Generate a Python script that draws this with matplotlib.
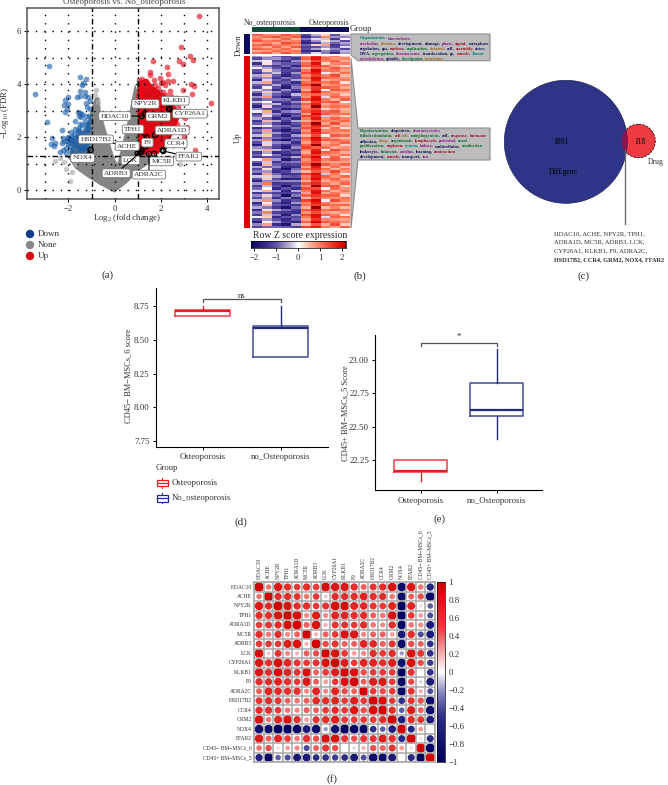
import matplotlib
matplotlib.use('Agg')
import matplotlib.pyplot as plt
import numpy as np
from matplotlib.colors import LinearSegmentedColormap
from matplotlib.patches import Circle, Polygon, Rectangle

plt.rcParams['font.family'] = ['Liberation Serif', 'DejaVu Serif']
plt.rcParams['mathtext.fontset'] = 'custom'
plt.rcParams['mathtext.rm'] = 'Liberation Serif'
plt.rcParams['mathtext.default'] = 'regular'

W, H = 668, 785
TXT = '#2e2e2e'

# volcano data
blue_x = [-2.83,-3.44,-2.93,-1.52,-1.24,-1.35,-1.4,-1.5,-1.3,-2.0,-2.15,-2.02,-1.65,-1.5,-1.3,-1.15,-1.05,-1.25,-1.2,-2.2,-2.05,-2.15,-1.6,-1.5,-1.4,-1.55,-1.45,-1.05,-1.1,-1.25,-1.08,-1.3,-1.7,-1.5,-1.4,-1.55,-1.25,-1.1,-1.7,-2.3,-1.9,-1.75,-1.6,-1.4,-1.2,-2.7,-2.75,-2.6,-2.65,-2.25,-2.2,-2.3,-2.0,-1.95,-1.85,-2.05,-1.9,-1.75,-1.6,-1.45,-1.2,-1.1,-1.95,-2.1,-2.25,-2.35,-2.1,-1.95,-1.8,-1.65,-1.5,-1.35,-1.2,-1.1,-1.75,-1.6,-1.45,-1.3,-1.85,-1.65,-1.55,-1.45,-1.35,-1.3,-1.2,-1.15,-1.9,-2.0,-1.8,-1.7,-1.55,-1.4,-1.3,-2.0,-1.85,-1.7,-1.6,-1.5,-1.25]
blue_y = [4.67,3.61,2.57,4.25,4.18,4.05,3.98,3.75,3.7,3.5,3.4,3.25,3.52,3.55,3.55,3.5,3.35,3.3,3.15,3.2,3.05,2.95,2.95,2.9,2.85,2.8,2.75,3.05,2.8,2.8,2.6,2.6,2.6,2.5,2.45,2.35,2.45,2.3,2.3,2.28,2.2,2.1,2.15,2.15,2.15,1.95,1.75,1.78,1.65,1.95,1.85,1.78,2.0,1.95,2.0,1.85,1.8,1.85,1.9,1.95,1.95,1.85,1.65,1.6,1.5,1.45,1.4,1.5,1.55,1.65,1.75,1.7,1.65,1.6,1.4,1.45,1.5,1.5,1.35,2.0,2.05,2.05,2.0,2.25,2.35,2.5,1.9,1.72,1.72,1.75,1.6,1.6,1.6,1.95,1.9,1.95,2.25,2.2,1.8]
red_x = [3.67,2.86,3.27,1.67,2.26,2.79,2.98,3.41,2.3,1.53,1.53,2.54,2.33,2.08,1.97,3.3,3.44,2.98,3.34,2.65,2.9,4.17,3.48,3.12,3.05,2.95,1.2,1.35,1.05,1.1,1.75,1.9,2.1,2.25,2.45,2.6,2.75,2.85,2.95,2.6,2.7,2.5,2.35,2.2,2.05,1.85,1.65,1.45,1.3,1.15,1.0,1.7,2.0,2.4,2.2,2.85,3.0,2.55]
red_y = [6.55,5.41,5.06,4.87,4.64,4.88,4.75,4.9,4.38,4.46,4.33,4.11,4.11,4.06,4.24,4.01,3.92,3.77,3.62,3.47,3.4,3.27,1.51,2.39,2.7,2.95,4.2,4.1,4.15,3.95,3.95,3.85,3.7,3.6,3.55,3.4,3.15,3.0,2.8,2.75,2.5,2.25,2.1,1.95,1.75,1.6,1.55,3.85,3.95,3.75,3.6,4.15,4.05,3.75,3.95,2.2,2.05,1.7]
pale_x = [-0.8,-0.85,-0.7,-2.58,-2.37,-2.1,-1.94,-1.72,-1.86,2.83,-1.55,-2.2]
pale_y = [3.77,3.58,3.33,1.1,1.2,0.78,0.35,1.0,0.69,1.0,1.2,1.05]
none_area_x = [0,-0.64,-1.21,-1.72,-2.0,-1.86,-1.5,-1.18,-1.04,-0.85,-0.66,-0.6,-0.42,-0.2,0,0.12,0.3,0.52,0.74,0.88,0.98,0.98,1.9,1.1,0.52]
none_area_y = [-0.1,0.19,0.5,0.82,1.2,1.63,2.0,2.5,3.0,3.5,3.5,3.0,2.4,1.75,1.2,1.0,1.63,2.4,3.4,4.0,3.77,1.5,1.25,0.75,0.25]
up_area_x = [0.98,0.98,1.4,1.7,2.2,2.6,2.8,2.6,2.3,1.9]
up_area_y = [1.32,4.1,4.2,3.9,3.6,3.3,2.7,2.2,1.8,1.36]
genes = ['NPY2R','KLKB1','HDAC10','GRM2','CYP26A1','TPH1','ADRA1D','HSD17B2','F9','CCR4','ACHE','NOX4','FFAR2','LCK','MC5R','ADRB3','ADRA2C']
gene_x = [1.32,2.36,1.17,1.32,2.4,1.39,1.76,1.17,1.34,2.1,1.17,-1.04,2.11,1.0,1.71,1.1,1.49]
gene_y = [2.89,3.08,2.79,2.86,3.04,1.99,2.08,1.53,1.64,1.51,1.45,1.51,1.47,1.38,1.36,1.41,1.36]
label_x = [1.34,2.63,0.01,1.89,3.27,0.8,2.5,-0.81,1.42,2.66,0.55,-1.39,3.22,0.69,2.04,0.07,1.49]
label_y = [3.25,3.37,2.79,2.77,2.88,2.29,2.25,1.91,1.79,1.76,1.66,1.21,1.26,1.12,1.08,0.63,0.58]

# heatmap rows in tenths of a z score, five no_osteoporosis then five osteoporosis
heat_down = [
    [12,9,8,13,10,-12,-4,3,-10,-3],
    [8,11,13,9,12,-15,-9,9,-6,-7],
    [10,6,7,12,6,-8,-2,-3,-13,1],
    [13,10,11,8,9,-14,-6,2,-5,-11],
    [7,9,6,14,11,-16,-13,-4,-9,-5],
    [11,13,9,10,8,-9,3,7,-14,-8],
    [9,6,12,7,13,-13,-11,-6,-12,-2],
    [12,10,8,11,6,-11,-5,-1,-7,-12],
    [6,8,11,9,10,-15,-16,-7,-10,-4],
    [10,12,7,13,9,-10,-2,-8,-15,-6],
]
heat_up = [
    [-6,-3,-9,-13,-8,9,17,6,10,4],
    [-12,-7,-6,-10,-14,12,19,11,8,9],
    [-3,-1,-12,-15,-7,6,14,9,12,6],
    [-15,2,-8,-11,-10,11,20,3,9,10],
    [-7,-10,-13,-9,-16,13,16,12,7,3],
    [-1,-5,-11,-16,-9,5,13,8,13,9],
    [-11,3,-7,-12,-13,10,21,10,11,7],
    [-14,-8,-3,-14,-6,14,18,-1,6,11],
    [-5,5,-10,-17,-11,8,15,9,14,5],
    [-9,-6,-14,-8,-12,12,20,12,10,8],
    [-16,-2,-9,-13,-5,7,19,5,8,10],
    [-4,7,-12,-10,-15,11,14,10,12,2],
    [-10,-9,-5,-15,-10,15,22,7,9,9],
    [-13,1,-11,-18,-8,9,16,13,11,6],
    [-2,-7,-15,-7,-13,6,17,1,13,11],
    [-8,4,-6,-12,-16,13,21,11,7,7],
    [-15,-4,-10,-14,-4,10,12,8,10,4],
    [-6,8,-13,-19,-11,8,19,-2,12,9],
    [-12,-8,-8,-9,-14,14,20,10,6,12],
    [-3,0,-14,-13,-7,5,15,12,14,1],
    [-11,-5,-4,-16,-12,12,18,6,9,8],
    [-17,3,-12,-11,-9,9,22,9,11,10],
    [-7,-11,-9,-18,-15,11,14,3,8,5],
    [-1,6,-15,-8,-6,13,17,11,13,7],
    [-13,-3,-7,-15,-13,7,21,13,10,11],
    [-9,2,-11,-20,-10,15,16,-3,7,3],
    [-5,-9,-16,-10,-16,10,19,8,12,9],
    [-14,5,-5,-13,-5,6,13,10,9,12],
    [-10,-6,-13,-17,-11,12,22,7,14,6],
    [-2,1,-8,-9,-14,9,18,12,6,8],
    [-16,-10,-10,-14,-8,14,15,4,11,2],
    [-8,7,-14,-19,-12,8,20,9,10,10],
    [-12,-4,-6,-11,-17,11,17,11,8,7],
    [-4,4,-12,-16,-6,5,14,-1,13,11],
    [-15,-7,-9,-12,-13,13,21,10,7,5],
    [-6,9,-15,-20,-9,10,19,13,12,9],
    [-11,-2,-7,-8,-15,7,16,6,9,12],
    [-18,3,-11,-15,-11,12,22,8,11,4],
    [-7,-8,-13,-18,-7,15,13,11,6,8],
    [-3,6,-4,-10,-14,9,18,2,14,10],
    [-13,-5,-16,-14,-10,6,20,12,10,6],
    [-9,1,-8,-17,-16,11,15,9,8,11],
    [-14,-11,-12,-11,-5,14,21,-2,12,3],
    [-1,8,-6,-19,-13,8,17,10,13,9],
    [-10,-3,-14,-9,-8,10,14,7,7,7],
    [-16,5,-10,-13,-12,13,22,13,9,12],
    [-5,-9,-7,-16,-15,7,19,5,11,5],
    [-12,2,-13,-20,-9,12,16,11,6,10],
    [-8,-6,-15,-12,-6,5,13,8,14,8],
    [-15,7,-9,-15,-14,15,20,-3,10,2],
    [-3,-2,-5,-10,-11,9,18,12,8,11],
    [-11,4,-12,-18,-17,11,21,9,12,6],
    [-17,-7,-8,-7,-7,6,15,6,9,9],
    [-6,10,-14,-14,-13,13,17,10,7,12],
    [-13,-4,-11,-19,-10,8,22,13,13,4],
    [-9,0,-16,-11,-15,14,14,1,11,8],
    [-2,6,-6,-16,-5,10,19,11,6,10],
    [-14,-10,-13,-13,-12,7,20,7,10,7],
    [-7,3,-9,-21,-8,12,16,12,12,3],
    [-12,-5,-15,-8,-16,5,13,9,8,11],
    [-4,8,-7,-15,-11,15,21,-1,14,9],
    [-16,-1,-12,-17,-6,9,18,10,7,6],
    [-10,5,-10,-12,-14,11,15,13,11,12],
    [-5,-8,-14,-20,-9,6,22,5,9,5],
    [-15,2,-5,-9,-13,13,17,11,13,10],
    [-8,9,-13,-14,-15,8,14,8,6,8],
    [-13,-3,-8,-18,-7,14,20,12,10,2],
    [-1,4,-16,-11,-12,10,19,-2,12,11],
    [-11,-6,-11,-16,-10,7,16,9,8,7],
    [-18,1,-6,-13,-17,12,21,13,11,9],
    [-7,7,-15,-19,-5,5,13,6,14,4],
    [-12,-9,-9,-10,-13,15,18,10,7,12],
]

# box plot stats
d_red = dict(q1=8.68, med=8.715, q3=8.72, whislo=8.68, whishi=8.75, fliers=[])
d_blue = dict(q1=8.375, med=8.59, q3=8.607, whislo=8.375, whishi=8.75, fliers=[])
e_red = dict(q1=22.16, med=22.165, q3=22.245, whislo=22.09, whishi=22.245, fliers=[])
e_blue = dict(q1=22.58, med=22.625, q3=22.83, whislo=22.405, whishi=23.085, fliers=[])

# correlation matrix
corr_names = ['HDAC10','ACHE','NPY2R','TPH1','ADRA1D','MC5R','ADRB3','LCK','CYP26A1','KLKB1','F9','ADRA2C','HSD17B2','CCR4','GRM2','NOX4','FFAR2','CD45\u2212 BM\u2212MSCs_6','CD45+ BM\u2212MSCs_5']
corr = [
    [1,.35,.8,.6,.5,.6,.5,.9,.8,.8,.6,.4,.55,.6,.85,-.85,.8,.35,-.6],
    [.35,1,.6,.6,.55,.35,.5,.15,.6,.6,.6,.7,.6,.6,.35,-.85,.4,.45,-.9],
    [.8,.6,1,.85,.6,.6,.5,.55,.9,.9,.7,.65,.55,.5,.7,-1,.7,.1,-.35],
    [.6,.6,.85,1,.9,.3,.75,.3,.7,.7,.6,.6,.4,.35,.85,-1,.5,.25,-.4],
    [.5,.55,.6,.9,1,.4,.85,.2,.55,.55,.5,.6,.35,.3,.6,-.9,.35,.3,-.7],
    [.6,.35,.6,.3,.4,1,.2,.4,.5,.85,.8,.3,.4,.4,.25,-.7,.6,-.4,-.7],
    [.5,.5,.5,.75,.85,.2,1,.45,.55,.4,.4,.7,.65,.4,.55,-.85,.45,.4,-.5],
    [.9,.15,.55,.3,.2,.4,.45,1,.85,.5,.25,.3,.6,.5,.6,-.2,.85,.55,-.5],
    [.8,.6,.9,.7,.55,.5,.55,.85,1,.75,.5,.7,.7,.6,.75,-.8,.85,.45,-.45],
    [.8,.6,.9,.7,.55,.85,.4,.5,.75,1,.85,.45,.5,.5,.5,-1,.55,0,-.5],
    [.6,.6,.7,.6,.5,.8,.4,.25,.5,.85,1,.4,.75,.8,.5,-.9,.45,-.1,-.7],
    [.4,.7,.65,.6,.6,.3,.7,.3,.7,.45,.4,1,.5,.45,.5,-.9,.55,.2,-.4],
    [.55,.6,.55,.4,.35,.4,.65,.6,.7,.5,.75,.5,1,.9,.5,-.5,.55,.45,-.85],
    [.6,.6,.5,.35,.3,.4,.4,.5,.6,.5,.8,.45,.9,1,.6,-.35,.75,.4,-.85],
    [.85,.35,.7,.85,.6,.25,.55,.6,.75,.5,.5,.5,.5,.6,1,-.65,.6,.55,-.7],
    [-.85,-.85,-1,-1,-.9,-.7,-.85,-.2,-.8,-1,-.9,-.9,-.5,-.35,-.65,1,-.55,.25,0],
    [.8,.4,.7,.5,.35,.6,.45,.85,.85,.55,.45,.55,.55,.75,.6,-.55,1,.1,-.55],
    [.35,.45,.1,.25,.3,-.4,.4,.55,.45,0,-.1,.2,.45,.4,.55,.25,.1,1,-.95],
    [-.6,-.9,-.35,-.4,-.7,-.7,-.5,-.5,-.45,-.5,-.7,-.4,-.85,-.85,-.7,0,-.55,-.95,1],
]
corr_ticks = [1,.8,.6,.4,.2,0,-.2,-.4,-.6,-.8,-1]

# enrichment words, panel b
TEAL, PURP, NAVY, RED, GREEN, BROWN = '#00807a', '#8c1a8c', '#14145a', '#a01020', '#0c6b2c', '#a8651a'
box1_lines = [
    [('Organization,',TEAL),('kinetochore,',PURP)],
    [('cerebellar,',PURP),('division,',BROWN),('development,',NAVY),('damage,',NAVY),('phase,',PURP),('signal,',RED),('metaphase',NAVY)],
    [('regulation,',NAVY),('gas,',NAVY),('nucleus,',RED),('replication,',GREEN),('striated,',BROWN),('cell,',NAVY),('assembly,',RED),('sister,',NAVY)],
    [('DNA,',NAVY),('segregation,',GREEN),('chromosome,',PURP),('translocation,',NAVY),('gs,',NAVY),('muscle,',RED),('Tumor',TEAL)],
    [('cytoskeleton,',PURP),('spindle,',NAVY),('checkpoint,',GREEN),('transition',BROWN)],
]
box2_lines = [
    [('Repolarization,',GREEN),('diapedesis,',NAVY),('characteristics',PURP)],
    [('folliclestimulatin,',GREEN),('cell',RED),('cell,',BROWN),('morphogenesis,',GREEN),('cell,',NAVY),('response,',RED),('hormone',RED)],
    [('adhesion,',NAVY),('sleep,',BROWN),('organismal,',GREEN),('lymphocyte,',RED),('potential,',PURP),('renal',GREEN)],
    [('proliferation,',GREEN),('nephron,',RED),('system,',TEAL),('kidney,',PURP),('multicellular,',NAVY),('conduction',GREEN)],
    [('leukocyte,',NAVY),('behavior,',GREEN),('cardiac,',PURP),('learning,',NAVY),('contraction',RED)],
    [('development,',NAVY),('muscle,',RED),('transport,',NAVY),('ion',PURP)],
]


def ax_px(left, top, right, bottom):
    return fig.add_axes([left/W, 1-bottom/H, (right-left)/W, (bottom-top)/H])


def draw_words(page, x0, y, words):
    x = x0
    rend = fig.canvas.get_renderer()
    for w, col in words:
        t = page.text(x, y, w, color=col, fontsize=3.25, fontweight='bold', va='center', ha='left', zorder=6)
        x += t.get_window_extent(rend).width + 1.1


def box_panel(ax, red, blue, ticks, fmt, brk_y, tip, star, star_y):
    for pos, st, col in [(1, red, '#ea1c24'), (2, blue, '#1f2d80')]:
        ax.bxp([st], positions=[pos], widths=0.7, showcaps=False, showfliers=False,
               boxprops=dict(color=col, lw=1.1, alpha=0.85), whiskerprops=dict(color=col, lw=1.0),
               medianprops=dict(color=col, lw=1.6), manage_ticks=False)
    ax.plot([1, 1, 2, 2], [brk_y-tip, brk_y, brk_y, brk_y-tip], color='#555555', lw=0.9)
    ax.text(1.5, star_y, star, ha='center', va='center', fontsize=6.3, color=TXT)
    ax.set_xlim(0.4, 2.6)
    ax.set_xticks([1, 2])
    ax.set_xticklabels(['Osteoporosis', 'no_Osteoporosis'], fontsize=6.3, color=TXT)
    ax.set_yticks(ticks)
    ax.set_yticklabels([fmt % v for v in ticks], fontsize=6.3, color=TXT)
    ax.tick_params(length=2, width=0.7, pad=2.5)
    ax.spines['top'].set_visible(False)
    ax.spines['right'].set_visible(False)
    ax.patch.set_alpha(0)


fig = plt.figure(figsize=(W/100, H/100), dpi=100)
page = fig.add_axes([0, 0, 1, 1], zorder=10)
page.set_xlim(0, W)
page.set_ylim(H, 0)
page.axis('off')

# (a) volcano
ax = ax_px(27, 8, 219, 199)
ax.fill(none_area_x, none_area_y, color='#858585', lw=0, zorder=1)
ax.scatter(pale_x, pale_y, s=15, color='#b0b0b0', alpha=0.7, lw=0, zorder=2)
ax.scatter(blue_x, blue_y, s=17, color='#1a5ea8', alpha=0.62, lw=0, zorder=3)
ax.fill(up_area_x, up_area_y, color='#dc0a14', lw=0, zorder=3)
ax.scatter(red_x, red_y, s=17, color='#e4101e', alpha=0.65, lw=0, zorder=3)
for v in [-3, -2, 0, 2, 3, 4]:
    ax.axvline(v, color='k', lw=1.0, ls=(0, (1, 5)), zorder=4)
for v in [0, 1, 2, 3, 4, 5, 6]:
    ax.axhline(v, color='k', lw=1.0, ls=(0, (1, 5)), zorder=4)
for v in [-1, 1]:
    ax.axvline(v, color='k', lw=1.0, ls=(0, (4, 2, 1, 2)), zorder=4)
ax.axhline(1.3, color='k', lw=1.0, ls=(0, (4, 2, 1, 2)), zorder=4)
ax.scatter(gene_x, gene_y, s=14, facecolor='none', edgecolor='k', lw=0.9, zorder=6)
for g, gx, gy, lx, ly in zip(genes, gene_x, gene_y, label_x, label_y):
    ax.annotate(g, xy=(gx, gy), xytext=(lx, ly), ha='center', va='center', fontsize=5.4, color=TXT, zorder=7,
                bbox=dict(boxstyle='round,pad=0.25', fc='white', ec='#777777', lw=0.6),
                arrowprops=dict(arrowstyle='-', color='k', lw=0.8, shrinkA=0, shrinkB=0))
ax.set_xlim(-3.8, 4.53)
ax.set_ylim(-0.34, 6.87)
ax.set_xticks([-2, 0, 2, 4])
ax.set_yticks([0, 2, 4, 6])
ax.tick_params(labelsize=6.3, labelcolor=TXT, length=2, width=0.7, pad=2)
for s in ax.spines.values():
    s.set_color('#555555')
    s.set_linewidth(1.1)
page.text(124.7, 2.5, 'Osteoporosis vs. No_osteoporosis', ha='center', va='center', fontsize=6.5, color='#444444')
page.text(5, 113, '$-$Log$_{10}$ (FDR)', rotation=90, ha='center', va='center', fontsize=6.3, color=TXT)
page.text(126.7, 218, 'Log$_{2}$ (fold change)', ha='center', va='center', fontsize=6.3, color=TXT)
for y, col, name in [(234, '#0b3c8c', 'Down'), (245, '#868686', 'None'), (256, '#d40f1a', 'Up')]:
    page.add_patch(Circle((30, y), 4.2, color=col, lw=0))
    page.text(38, y, name, va='center', fontsize=6.5, color=TXT)
page.text(108, 275.5, '(a)', ha='center', va='center', fontsize=8, color=TXT)

# (b) heatmap
heat_cmap = LinearSegmentedColormap.from_list('heat', [
    (0, '#07075e'), (0.16, '#3a2c8c'), (0.27, '#6454a8'), (0.43, '#cfc4e2'), (0.5, '#ffffff'),
    (0.62, '#ffb5a0'), (0.73, '#ff7558'), (0.93, '#e6120a'), (0.985, '#dc0000'), (1, '#500000')])
ax = ax_px(251.5, 34, 349, 54)
ax.imshow(np.array(heat_down)/10, aspect='auto', cmap=heat_cmap, vmin=-2.2, vmax=2.2, interpolation='nearest')
ax.axis('off')
ax = ax_px(251.5, 55.7, 349, 228)
ax.imshow(np.array(heat_up)/10, aspect='auto', cmap=heat_cmap, vmin=-2.25, vmax=2.25, interpolation='nearest')
ax.axis('off')
page.add_patch(Rectangle((251.5, 27.3), 48.5, 5, color='#0f4a3a', lw=0))
page.add_patch(Rectangle((300, 27.3), 48.5, 5, color='#0b0b55', lw=0))
page.add_patch(Rectangle((244, 34), 6, 20, color='#0b0b60', lw=0))
page.add_patch(Rectangle((244, 55.7), 6, 172.3, color='#e00000', lw=0))
page.text(270, 22.7, 'No_osteoporosis', ha='center', va='center', fontsize=5.6, color=TXT)
page.text(329, 22.7, 'Osteoporosis', ha='center', va='center', fontsize=5.6, color=TXT)
page.text(350, 29, 'Group', ha='left', va='center', fontsize=6.3, color=TXT)
page.text(238.5, 45, 'Down', rotation=90, ha='center', va='center', fontsize=6.3, color=TXT)
page.text(238, 138, 'Up', rotation=90, ha='center', va='center', fontsize=6.3, color=TXT)
page.text(300, 235, 'Row Z score expression', ha='center', va='center', fontsize=7, color=TXT)
ax = ax_px(250.7, 241, 345.7, 247.7)
ax.imshow(np.linspace(-2.2, 2.2, 256).reshape(1, -1), aspect='auto', cmap=heat_cmap, extent=[-2.17, 2.17, 0, 1])
ax.set_yticks([])
ax.set_xticks([-2, -1, 0, 1, 2])
ax.tick_params(labelsize=6.3, labelcolor=TXT, length=2, width=0.6, pad=2.5)
for s in ax.spines.values():
    s.set_linewidth(0.5)
page.add_patch(Polygon([(351, 34), (490, 34), (490, 60.7), (358, 60.7), (351, 55)], fc='#bcbcbc', ec='#8c8c8c', lw=0.8))
page.add_patch(Polygon([(351, 58), (358, 128), (490, 128), (490, 160), (358, 160), (351, 228)], fc='#bcbcbc', ec='#8c8c8c', lw=0.8))
fig.canvas.draw()
for i, words in enumerate(box1_lines):
    draw_words(page, 360, 38.3+5.2*i, words)
for i, words in enumerate(box2_lines):
    draw_words(page, 360, 131+5.15*i, words)
page.text(360, 276, '(b)', ha='center', va='center', fontsize=8, color=TXT)

# (c) venn
big = Circle((565.8, 141.8), 61.5, fc='#2e3586', ec='#20265e', lw=0.5)
small = Circle((638.5, 141), 16.8, fc='#ee3a43', ec='k', lw=0.5, ls='--')
lens = Circle((638.5, 141), 16.8, fc='#8e1350', ec='none')
page.add_patch(small)
page.add_patch(big)
page.add_patch(lens)
lens.set_clip_path(big)
page.plot([625, 625], [150, 224], color='#666666', lw=0.9)
page.text(560.7, 141.7, '1891', ha='center', va='center', fontsize=5.5, color='k')
page.text(640, 142, '118', ha='center', va='center', fontsize=5.5, color='k')
page.text(563, 171.7, 'Diff.gene', ha='center', va='center', fontsize=5.5, color='k')
page.text(656, 162, 'Drug', ha='center', va='center', fontsize=5.5, color=TXT)
gene_lines = ['HDAC10, ACHE, NPY2R, TPH1,', 'ADRA1D, MC5R, ADRB3, LCK,', 'CYP26A1, KLKB1, F9, ADRA2C,']
for i, s in enumerate(gene_lines):
    page.text(554, 233.7+8.5*i, s, va='center', fontsize=4.75, color=TXT)
page.text(554, 259.3, 'HSD17B2, CCR4, GRM2, NOX4, FFAR2', va='center', fontsize=4.5, fontweight='bold', color=TXT)
page.text(583.7, 276, '(c)', ha='center', va='center', fontsize=8, color=TXT)

# (d) box plot
ax = ax_px(155.7, 288, 327.5, 446.7)
box_panel(ax, d_red, d_blue, [7.75, 8.0, 8.25, 8.5, 8.75], '%.2f', 8.805, 0.02, 'ns', 8.83)
ax.set_ylim(7.706, 8.887)
page.text(128, 376, 'CD45\u2212 BM\u2212MSCs_6 score', rotation=90, ha='center', va='center', fontsize=6, color=TXT)
page.text(156, 468, 'Group', va='center', fontsize=6.3, color=TXT)
for y, col, name in [(482.7, '#ea1c24', 'Osteoporosis'), (498.3, '#1f2d80', 'No_osteoporosis')]:
    page.add_patch(Rectangle((157, y-3.2), 10.5, 6.4, fc='none', ec=col, lw=0.9))
    page.plot([157, 167.5], [y, y], color=col, lw=0.9)
    page.plot([162.2, 162.2], [y-5, y-3.2], color=col, lw=0.7)
    page.plot([162.2, 162.2], [y+3.2, y+5], color=col, lw=0.7)
    page.text(171.3, y, name, va='center', fontsize=6.3, color=TXT)
page.text(241, 522, '(d)', ha='center', va='center', fontsize=8, color=TXT)

# (e) box plot
ax = ax_px(375.3, 335, 542, 490.3)
box_panel(ax, e_red, e_blue, [22.25, 22.5, 22.75, 23.0], '%.2f', 23.13, 0.025, '*', 23.175)
ax.set_ylim(22.02, 23.19)
page.text(345, 413, 'CD45+ BM\u2212MSCs_5 Score', rotation=90, ha='center', va='center', fontsize=6, color=TXT)
page.text(439.7, 519.3, '(e)', ha='center', va='center', fontsize=8, color=TXT)

# (f) correlation circles
corr_cmap = LinearSegmentedColormap.from_list('corr', [
    (0, '#000060'), (0.25, '#2c2c8a'), (0.38, '#8080bc'), (0.5, '#ffffff'),
    (0.62, '#f8a0a0'), (0.75, '#e83a3a'), (1, '#d40000')])
n = len(corr_names)
ax = ax_px(254.3, 582.3, 435, 762.3)
for i in range(n):
    for j in range(n):
        v = corr[i][j]
        ax.add_patch(Circle((j+0.5, i+0.5), 0.5*np.sqrt(abs(v)), fc=corr_cmap((v+1)/2), ec='none'))
ax.set_xlim(0, n)
ax.set_ylim(n, 0)
ax.set_xticks(np.arange(n+1))
ax.set_yticks(np.arange(n+1))
ax.grid(True, color='#a8a8a8', lw=1.1)
ax.set_axisbelow(False)
ax.tick_params(length=0, labelbottom=False, labelleft=False)
for s in ax.spines.values():
    s.set_color('#a8a8a8')
    s.set_linewidth(1.2)
for i, name in enumerate(corr_names):
    page.text(251.7, 582.3+(i+0.5)*180/n, name, ha='right', va='center', fontsize=4.0, color=TXT)
    page.text(254.3+(i+0.5)*180.7/n, 579, name, rotation=90, ha='center', va='bottom', fontsize=4.0, color=TXT)
ax = ax_px(437.3, 582.3, 445, 762.3)
ax.imshow(np.linspace(1, -1, 256).reshape(-1, 1), aspect='auto', cmap=corr_cmap, extent=[0, 1, -1, 1])
ax.set_xticks([])
ax.yaxis.tick_right()
ax.set_yticks(corr_ticks)
ax.set_yticklabels([('%g' % v).replace('-', '\u2212') for v in corr_ticks], fontsize=6.3, color=TXT)
ax.tick_params(length=0, pad=2.5)
for s in ax.spines.values():
    s.set_linewidth(0.5)
page.text(331.7, 779, '(f)', ha='center', va='center', fontsize=8, color=TXT)

fig.savefig('out.png', dpi=100)
